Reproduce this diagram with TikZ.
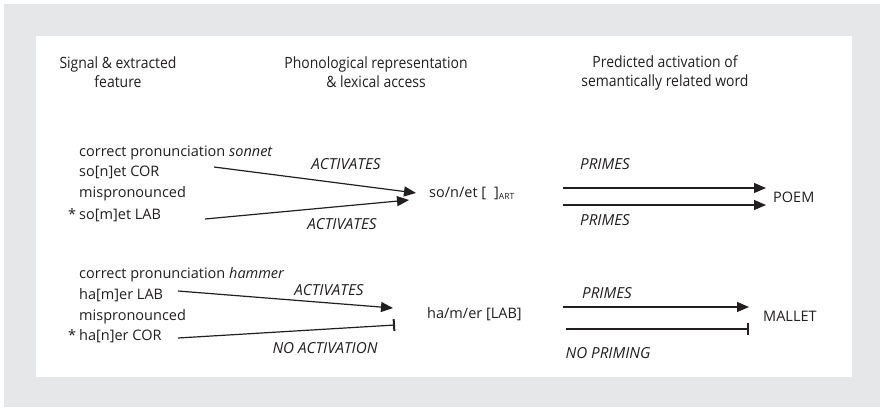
\documentclass[tikz,border=0pt]{standalone}
\usepackage{fontspec}
\setmainfont{Open Sans}
\newfontfamily\hdfont[FakeStretch=0.9]{Open Sans}
\usetikzlibrary{arrows.meta}
\definecolor{bggray}{HTML}{E6E7E8}
\definecolor{ink}{HTML}{231F20}
\begin{document}
\begin{tikzpicture}[x=1pt,y=-1pt,
  txt/.style={inner sep=0pt, text height=11pt, text depth=3.5pt, font=\fontsize{14.5}{17}\selectfont, text=ink, anchor=west},
  capstxt/.style={inner sep=0pt, text height=10.4pt, text depth=0pt, font=\fontsize{14.5}{17}\selectfont, text=ink, anchor=west},
  hdr/.style={inner sep=0pt, align=center, font=\hdfont\fontsize{15.5}{19}\selectfont, text=ink},
  lbl/.style={inner sep=0pt, text height=11pt, text depth=0pt, font=\itshape\fontsize{15.2}{17}\selectfont, text=ink},
  conn/.style={draw=ink, line width=1.2pt, -{Triangle[length=12pt,width=10pt]}},
  blockconn/.style={draw=ink, line width=1.2pt, -{Bar[width=12pt,line width=2pt]}},
]
\useasboundingbox (0,0) rectangle (880,407);
\fill[white] (0,0) rectangle (880,407);
\fill[bggray] (4,4) rectangle (880,407);
\fill[white] (36,36) rectangle (852,377);

% headers
\node[hdr] (h1) at (118,72.5) {Signal \& extracted\\feature};
\node[hdr] (h2) at (376,72.5) {Phonological representation\\\& lexical access};
\node[hdr] (h3) at (665,72.5) {Predicted activation of\\semantically related word};

% block 1
\node[txt] (s1) at (79,152.7) {correct pronunciation \textit{sonnet}};
\node[txt] (s2) at (79,173) {so[n]et COR};
\node[txt] (s3) at (79,194) {mispronounced};
\node[txt] (s4) at (79,215.7) {\llap{*\hspace{3pt}}so[m]et LAB};

\node[txt] (sn) at (429,194) {so/n/et [\hspace{8pt}]\raisebox{-2pt}{\fontsize{8.5}{9}\selectfont ART}};
\node[capstxt] (poem) at (773,197) {POEM};

\coordinate (a1s) at (214,167);
\coordinate (a1e) at (416,193);
\coordinate (a2s) at (205,219);
\coordinate (a2e) at (409,200);
\draw[conn] (a1s) -- (a1e);
\draw[conn] (a2s) -- (a2e);
\node[lbl] (act1) at (346,164) {ACTIVATES};
\node[lbl] (act2) at (342,224) {ACTIVATES};

\coordinate (p1s) at (563,188);
\coordinate (p1e) at (766,188);
\coordinate (p2s) at (563,205);
\coordinate (p2e) at (766,205);
\draw[conn] (p1s) -- (p1e);
\draw[conn] (p2s) -- (p2e);
\node[lbl] (pr1) at (605,164) {PRIMES};
\node[lbl] (pr2) at (605,220) {PRIMES};

% block 2
\node[txt] (t1) at (79,275) {correct pronunciation \textit{hammer}};
\node[txt] (t2) at (79,295.7) {ha[m]er LAB};
\node[txt] (t3) at (79,316.7) {mispronounced};
\node[txt] (t4) at (79,337) {\llap{*\hspace{3pt}}ha[n]er COR};

\node[txt] (hm) at (427,315) {ha/m/er [LAB]};
\node[capstxt] (mallet) at (763,316) {MALLET};

\coordinate (a3s) at (178,291);
\coordinate (a3e) at (393,308);
\coordinate (a4s) at (178,338);
\coordinate (a4e) at (395,325);
\draw[conn] (a3s) -- (a3e);
\draw[blockconn] (a4s) -- (a4e);
\node[lbl] (act3) at (329,290) {ACTIVATES};
\node[lbl] (noact) at (325,348) {NO ACTIVATION};

\coordinate (p3s) at (563,307);
\coordinate (p3e) at (749,307);
\coordinate (p4s) at (566,329);
\coordinate (p4e) at (749,329);
\draw[conn] (p3s) -- (p3e);
\draw[blockconn] (p4s) -- (p4e);
\node[lbl] (pr3) at (607,293) {PRIMES};
\node[lbl] (noprime) at (608,353) {NO PRIMING};
\end{tikzpicture}
\end{document}
